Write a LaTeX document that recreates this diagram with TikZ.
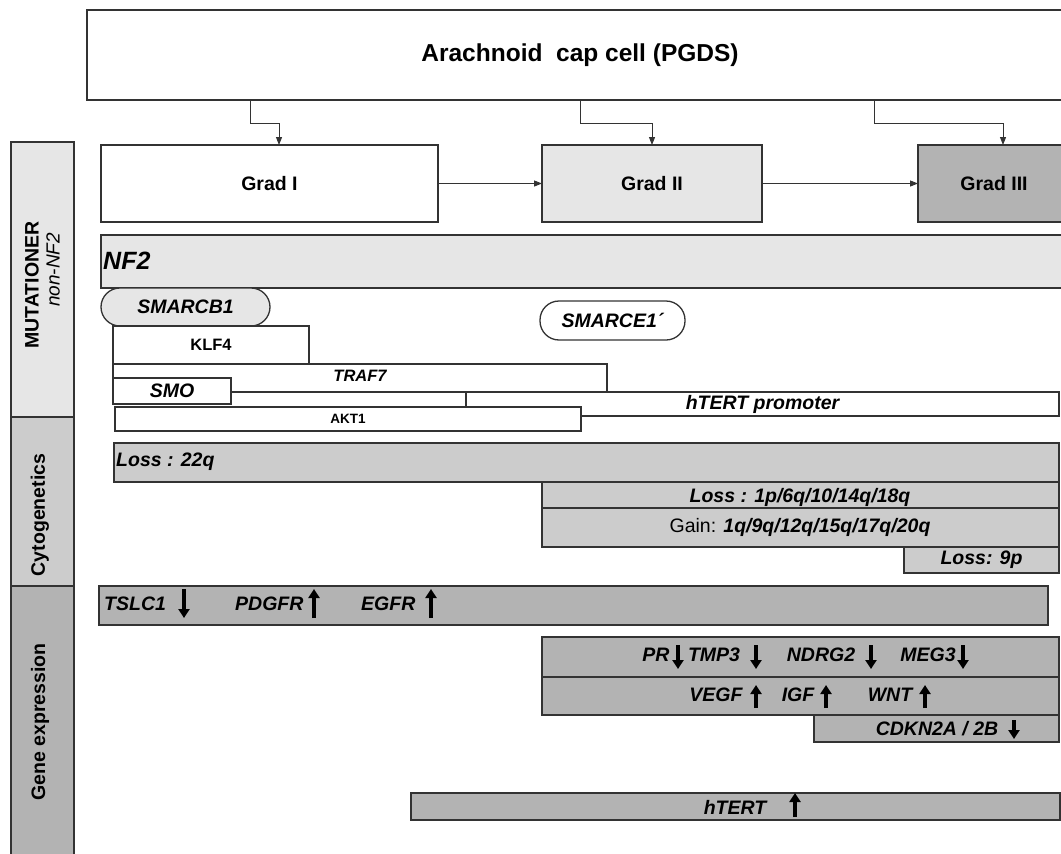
\documentclass[tikz,border=0pt]{standalone}
\usepackage{fontspec}
\setmainfont{Liberation Sans}
\usetikzlibrary{arrows.meta}
\newcommand\setfz[1]{\fontsize{#1}{#1}\selectfont}
\definecolor{gA}{HTML}{E6E6E6}
\definecolor{gB}{HTML}{CCCCCC}
\definecolor{gC}{HTML}{B3B3B3}
\definecolor{ln}{HTML}{333333}
\begin{document}
\begin{tikzpicture}[x=1pt,y=-1pt,
 bx/.style={draw=ln,line width=1.3pt,inner sep=0pt,outer sep=0pt,anchor=north west,fill=white},
 sz/.style 2 args={minimum width=#1pt,minimum height=#2pt},
 tx/.style={inner sep=0pt,font=\bfseries\setfz{19.5}},
 ti/.style={inner sep=0pt,font=\bfseries\itshape\setfz{19.5}},
 arr/.style={draw=ln,line width=1pt,-{Triangle[length=8pt,width=6pt]}},
 blk/.style={line width=4.4pt,-{Triangle[length=9pt,width=11pt]}},
]
\clip (0,0) rectangle (1061,854);
\fill[white] (0,0) rectangle (1061,854);

% top
\node[bx,sz={986}{90}] (top) at (87,10) {};
\node[tx,font=\bfseries\setfz{24.5}] (title) at (top.center) {Arachnoid\ \ cap cell (PGDS)};

% grades
\node[bx,sz={337}{77}] (g1) at (101,145) {};
\node[tx] at (g1.center) {Grad I};
\node[bx,sz={220}{77},fill=gA] (g2) at (542,145) {};
\node[tx] at (g2.center) {Grad II};
\node[bx,sz={152}{77},fill=gC] (g3) at (918,145) {};
\node[tx] at (g3.center) {Grad III};
\draw[arr] (g1.east) -- (g2.west);
\draw[arr] (g2.east) -- (g3.west);

\coordinate (k1) at (250,123); \coordinate (d1) at (279,0);
\coordinate (k2) at (580,123); \coordinate (d2) at (652,0);
\coordinate (k3) at (874,123); \coordinate (d3) at (1003,0);
\draw[arr] (top.south -| k1) -- (k1) -| (g1.north -| d1);
\draw[arr] (top.south -| k2) -- (k2) -| (g2.north -| d2);
\draw[arr] (top.south -| k3) -- (k3) -| (g3.north -| d3);

% left column
\node[bx,sz={63}{275},fill=gA] (mut) at (11,142) {};
\node[bx,sz={63}{169},fill=gB] (cyt) at (11,417) {};
\node[bx,sz={63}{290},fill=gC] (gen) at (11,586) {};
\node[tx,rotate=90] at (32,285) {MUTATIONER};
\node[inner sep=0pt,font=\itshape\setfz{19},rotate=90] at (53,270) {non-NF2};
\node[tx,rotate=90] at (40,515) {Cytogenetics};
\node[tx,rotate=90] at (40,722) {Gene expression};

% NF2
\node[bx,sz={970}{53},fill=gA] (nf2) at (101,235) {};
\node[ti,font=\bfseries\itshape\setfz{25},anchor=west] at (103,261) {NF2};

% mutations
\node[bx,sz={169}{38},fill=gA,rounded corners=19pt] (smb) at (101,288) {};
\node[ti] at (smb.center) {SMARCB1};
\node[bx,sz={145}{39},rounded corners=19pt] (sme) at (540,301) {};
\node[ti] at (sme.center) {SMARCE1´};
\node[bx,sz={196}{38}] (klf) at (113,326) {};
\node[tx,font=\bfseries\setfz{16.5}] at (klf.center) {KLF4};
\node[bx,sz={494}{28}] (traf) at (113,364) {};
\node[ti,font=\bfseries\itshape\setfz{16.5}] at (360,376) {TRAF7};
\node[bx,sz={593}{24}] (htp) at (466,392) {};
\node[ti] at (htp.center) {hTERT promoter};
\node[bx,sz={118}{26}] (smo) at (113,378) {};
\node[ti] at (smo.center) {SMO};
\node[bx,sz={466}{24}] (akt) at (115,407) {};
\node[tx,font=\bfseries\setfz{13.5}] at (akt.center) {AKT1};

% cytogenetics
\node[bx,sz={945}{39},fill=gB] (l22) at (114,443) {};
\node[ti,anchor=west] at (116,462) {Loss : 22q};
\node[bx,sz={517}{26},fill=gB] (l1p) at (542,482) {};
\node[ti] at (800,497) {Loss : 1p/6q/10/14q/18q};
\node[bx,sz={517}{39},fill=gB] (gain) at (542,508) {};
\node[ti] at (800,527) {{\mdseries\upshape Gain:} 1q/9q/12q/15q/17q/20q};
\node[bx,sz={155}{26},fill=gB] (l9p) at (904,547) {};
\node[ti] at (l9p.center) {Loss: 9p};

% gene expression
\node[bx,sz={949}{39},fill=gC] (r1) at (99,586) {};
\node[ti,anchor=west] at (104,604) {TSLC1};
\node[ti,anchor=west] at (235,604) {PDGFR};
\node[ti,anchor=west] at (361,604) {EGFR};
\draw[blk] (184,589) -- (184,618);
\draw[blk] (314,618) -- (314,589);
\draw[blk] (431,618) -- (431,589);

\node[bx,sz={517}{40},fill=gC] (r2) at (542,637) {};
\node[ti] at (656,655) {PR};
\node[ti] at (714,655) {TMP3};
\node[ti] at (821,655) {NDRG2};
\node[ti] at (928,655) {MEG3};
\draw[blk] (678,645) -- (678,669);
\draw[blk] (756,645) -- (756,669);
\draw[blk] (871,645) -- (871,669);
\draw[blk] (963,645) -- (963,669);

\node[bx,sz={517}{38},fill=gC] (r3) at (542,677) {};
\node[ti] at (716,695) {VEGF};
\node[ti] at (798,695) {IGF};
\node[ti] at (890,695) {WNT};
\draw[blk] (756,708) -- (756,685);
\draw[blk] (826,708) -- (826,685);
\draw[blk] (925,708) -- (925,685);

\node[bx,sz={245}{27},fill=gC] (r4) at (814,715) {};
\node[ti] at (937,729) {CDKN2A / 2B};
\draw[blk] (1014,720) -- (1014,739);

\node[bx,sz={649}{27},fill=gC] (r5) at (411,793) {};
\node[ti] at (735,807) {hTERT};
\draw[blk] (795,817) -- (795,793);
\end{tikzpicture}
\end{document}
